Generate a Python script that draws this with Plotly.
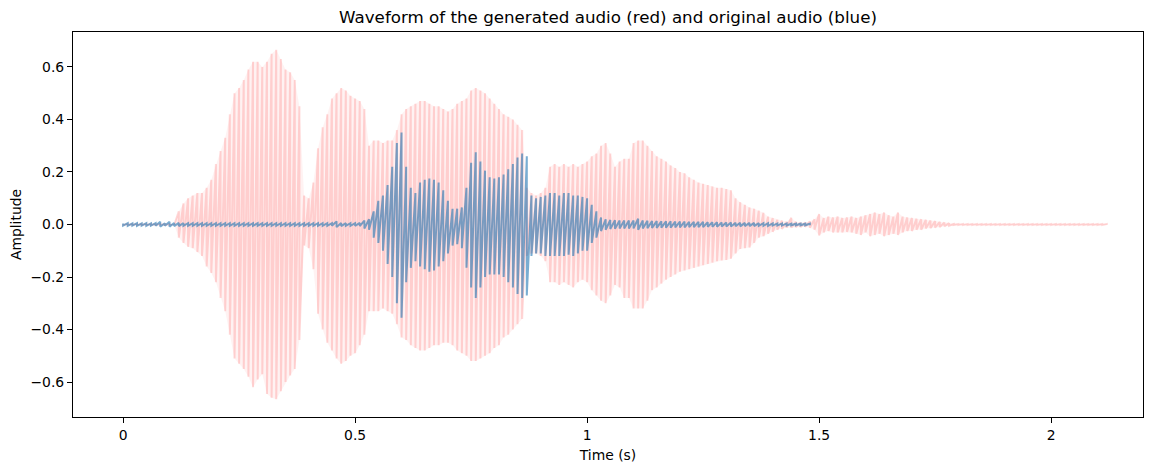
import numpy as np
import plotly.graph_objects as go

# envoltória: pico superior e inferior a cada 10 ms
passo = 0.01

gerado_sup = [
    0.002, 0.002, 0.002, 0.002, 0.002, 0.002, 0.002, 0.002, 0.002, 0.002,
    0.002, 0.002, 0.05, 0.08, 0.10, 0.11, 0.12, 0.12, 0.14, 0.17,
    0.23, 0.28, 0.33, 0.42, 0.50, 0.52, 0.55, 0.59, 0.62, 0.62,
    0.60, 0.62, 0.65, 0.665, 0.63, 0.59, 0.58, 0.55, 0.45, 0.11,
    0.10, 0.16, 0.29, 0.37, 0.42, 0.48, 0.50, 0.52, 0.51, 0.49,
    0.48, 0.47, 0.44, 0.30, 0.32, 0.32, 0.31, 0.32, 0.32, 0.36,
    0.42, 0.44, 0.45, 0.46, 0.47, 0.47, 0.46, 0.45, 0.45, 0.44,
    0.43, 0.44, 0.46, 0.47, 0.48, 0.51, 0.52, 0.51, 0.50, 0.48,
    0.46, 0.44, 0.42, 0.41, 0.40, 0.38, 0.36, 0.14, 0.12, 0.11,
    0.12, 0.14, 0.22, 0.23, 0.22, 0.23, 0.22, 0.23, 0.22, 0.23,
    0.24, 0.26, 0.27, 0.30, 0.31, 0.27, 0.22, 0.24, 0.25, 0.25,
    0.31, 0.32, 0.32, 0.30, 0.28, 0.26, 0.25, 0.24, 0.225, 0.215,
    0.20, 0.195, 0.18, 0.17, 0.16, 0.155, 0.15, 0.145, 0.14, 0.14,
    0.135, 0.13, 0.10, 0.085, 0.075, 0.065, 0.06, 0.053, 0.045, 0.03,
    0.025, 0.018, 0.014, 0.01, 0.026, 0.01, 0.008, 0.008, 0.012, 0.02,
    0.04, 0.025, 0.03, 0.027, 0.03, 0.025, 0.027, 0.03, 0.025, 0.03,
    0.035, 0.04, 0.046, 0.04, 0.046, 0.035, 0.03, 0.046, 0.03, 0.027,
    0.025, 0.022, 0.02, 0.018, 0.015, 0.013, 0.01, 0.008, 0.005, 0.002,
    0.002, 0.002, 0.002, 0.002, 0.002, 0.002, 0.002, 0.002, 0.002, 0.002,
    0.002, 0.002, 0.002, 0.002, 0.002, 0.002, 0.002, 0.002, 0.002, 0.002,
    0.002, 0.002, 0.002, 0.002, 0.002, 0.002, 0.002, 0.002, 0.002, 0.002,
    0.002, 0.002, 0.002,
]

gerado_inf = [
    -0.002, -0.002, -0.002, -0.002, -0.002, -0.002, -0.002, -0.002, -0.002, -0.002,
    -0.002, -0.002, -0.05, -0.07, -0.085, -0.09, -0.105, -0.12, -0.16, -0.185,
    -0.22, -0.28, -0.33, -0.42, -0.51, -0.53, -0.55, -0.58, -0.62, -0.59,
    -0.57, -0.645, -0.66, -0.665, -0.635, -0.60, -0.575, -0.55, -0.44, -0.08,
    -0.09, -0.17, -0.34, -0.40, -0.45, -0.48, -0.51, -0.53, -0.52, -0.50,
    -0.49, -0.46, -0.42, -0.33, -0.33, -0.33, -0.32, -0.33, -0.34, -0.38,
    -0.43, -0.44, -0.46, -0.47, -0.48, -0.48, -0.47, -0.46, -0.46, -0.45,
    -0.45, -0.46, -0.48, -0.49, -0.50, -0.52, -0.52, -0.51, -0.50, -0.49,
    -0.47, -0.46, -0.43, -0.42, -0.40, -0.38, -0.36, -0.12, -0.11, -0.11,
    -0.12, -0.14, -0.22, -0.22, -0.23, -0.22, -0.23, -0.24, -0.22, -0.21,
    -0.22, -0.25, -0.27, -0.29, -0.30, -0.27, -0.23, -0.24, -0.28, -0.28,
    -0.32, -0.32, -0.32, -0.29, -0.25, -0.24, -0.225, -0.21, -0.20, -0.19,
    -0.18, -0.175, -0.17, -0.165, -0.16, -0.155, -0.15, -0.145, -0.14, -0.137,
    -0.135, -0.13, -0.11, -0.093, -0.09, -0.088, -0.07, -0.05, -0.045, -0.035,
    -0.028, -0.02, -0.017, -0.012, -0.012, -0.01, -0.01, -0.009, -0.012, -0.02,
    -0.042, -0.03, -0.025, -0.03, -0.03, -0.03, -0.028, -0.03, -0.035, -0.04,
    -0.03, -0.045, -0.04, -0.035, -0.045, -0.04, -0.035, -0.04, -0.03, -0.025,
    -0.025, -0.02, -0.02, -0.015, -0.014, -0.012, -0.01, -0.007, -0.005, -0.002,
    -0.002, -0.002, -0.002, -0.002, -0.002, -0.002, -0.002, -0.002, -0.002, -0.002,
    -0.002, -0.002, -0.002, -0.002, -0.002, -0.002, -0.002, -0.002, -0.002, -0.002,
    -0.002, -0.002, -0.002, -0.002, -0.002, -0.002, -0.002, -0.002, -0.002, -0.002,
    -0.002, -0.002, -0.002,
]

original_sup = [
    0.004, 0.005, 0.004, 0.005, 0.004, 0.005, 0.004, 0.005, 0.01, 0.005,
    0.01, 0.006, 0.006, 0.005, 0.005, 0.005, 0.005, 0.005, 0.005, 0.005,
    0.005, 0.005, 0.005, 0.005, 0.005, 0.005, 0.005, 0.005, 0.005, 0.005,
    0.005, 0.005, 0.005, 0.005, 0.005, 0.005, 0.005, 0.005, 0.005, 0.005,
    0.005, 0.005, 0.005, 0.005, 0.005, 0.005, 0.012, 0.006, 0.005, 0.005,
    0.005, 0.006, 0.015, 0.02, 0.05, 0.09, 0.11, 0.15, 0.22, 0.31,
    0.35, 0.22, 0.14, 0.12, 0.16, 0.17, 0.175, 0.17, 0.16, 0.13,
    0.09, 0.06, 0.06, 0.065, 0.14, 0.235, 0.275, 0.24, 0.205, 0.18,
    0.175, 0.18, 0.19, 0.21, 0.23, 0.255, 0.27, 0.26, 0.11, 0.10,
    0.105, 0.11, 0.12, 0.12, 0.11, 0.12, 0.12, 0.11, 0.11, 0.105,
    0.10, 0.075, 0.05, 0.027, 0.02, 0.017, 0.016, 0.015, 0.015, 0.015,
    0.015, 0.022, 0.015, 0.014, 0.013, 0.013, 0.012, 0.012, 0.012, 0.011,
    0.011, 0.011, 0.01, 0.01, 0.01, 0.01, 0.009, 0.009, 0.009, 0.008,
    0.008, 0.008, 0.007, 0.007, 0.006, 0.006, 0.006, 0.005, 0.005, 0.005,
    0.004, 0.004, 0.004, 0.004, 0.003, 0.003, 0.003, 0.003, 0.003,
]

original_inf = [
    -0.004, -0.005, -0.004, -0.005, -0.004, -0.005, -0.004, -0.005, -0.008, -0.005,
    -0.008, -0.006, -0.006, -0.005, -0.005, -0.005, -0.005, -0.005, -0.005, -0.005,
    -0.005, -0.005, -0.005, -0.005, -0.005, -0.005, -0.005, -0.005, -0.005, -0.005,
    -0.005, -0.005, -0.005, -0.005, -0.005, -0.005, -0.005, -0.005, -0.005, -0.005,
    -0.005, -0.005, -0.005, -0.005, -0.005, -0.005, -0.01, -0.006, -0.005, -0.005,
    -0.005, -0.006, -0.015, -0.02, -0.05, -0.07, -0.10, -0.15, -0.20, -0.30,
    -0.355, -0.22, -0.165, -0.14, -0.16, -0.17, -0.18, -0.175, -0.16, -0.14,
    -0.11, -0.08, -0.075, -0.09, -0.165, -0.24, -0.28, -0.24, -0.20, -0.19,
    -0.19, -0.19, -0.20, -0.22, -0.24, -0.265, -0.28, -0.27, -0.12, -0.11,
    -0.11, -0.12, -0.12, -0.12, -0.12, -0.12, -0.115, -0.12, -0.11, -0.10,
    -0.10, -0.07, -0.05, -0.025, -0.02, -0.017, -0.016, -0.015, -0.015, -0.015,
    -0.015, -0.02, -0.015, -0.014, -0.013, -0.013, -0.012, -0.012, -0.012, -0.011,
    -0.011, -0.011, -0.01, -0.01, -0.01, -0.01, -0.009, -0.009, -0.009, -0.008,
    -0.008, -0.008, -0.007, -0.007, -0.006, -0.006, -0.006, -0.005, -0.005, -0.005,
    -0.004, -0.004, -0.004, -0.004, -0.003, -0.003, -0.003, -0.003, -0.003,
]

titulo = "Waveform of the generated audio (red) and original audio (blue)"
fonte = "DejaVu Sans"


def traco_onda(sup, inf):
    # cada instante vira um traço vertical (sup -> inf) ligado ao seguinte
    t = np.arange(len(sup)) * passo
    x = np.repeat(t, 2)
    y = np.column_stack([sup, inf]).ravel()
    return x, y


t_ger = np.arange(len(gerado_sup)) * passo

fig = go.Figure()

# leve preenchimento do corpo do áudio gerado
fig.add_trace(go.Scatter(
    x=t_ger, y=gerado_sup, mode='lines', line=dict(width=0),
    hoverinfo='skip', name='sup'
))
fig.add_trace(go.Scatter(
    x=t_ger, y=gerado_inf, mode='lines', line=dict(width=0),
    fill='tonexty', fillcolor='rgba(255,0,0,0.05)',
    hoverinfo='skip', name='inf'
))

x_ger, y_ger = traco_onda(gerado_sup, gerado_inf)
fig.add_trace(go.Scatter(
    x=x_ger, y=y_ger, mode='lines',
    line=dict(color='rgba(255,0,0,0.15)', width=2),
    name='gerado'
))

x_ori, y_ori = traco_onda(original_sup, original_inf)
fig.add_trace(go.Scatter(
    x=x_ori, y=y_ori, mode='lines',
    line=dict(color='rgba(31,119,180,0.6)', width=2),
    name='original'
))

eixo = dict(
    showline=True, mirror=True, linecolor='black', linewidth=1.1,
    ticks='outside', ticklen=5, tickwidth=1.1, tickcolor='black',
    showgrid=False, zeroline=False, automargin=False,
    tickfont=dict(family=fonte, size=13.9, color='black'),
)

fig.update_layout(
    width=1159, height=462,
    margin=dict(l=65, r=24, t=24, b=53),
    paper_bgcolor='white', plot_bgcolor='white',
    showlegend=False,
    title=dict(text=titulo, x=0.5, xref='paper', xanchor='center',
               y=1 - 9 / 462, yanchor='middle',
               font=dict(family=fonte, size=16.7, color='black')),
    xaxis=dict(eixo, range=[-0.108, 2.198], tick0=0, dtick=0.5,
               title=dict(text='Time (s)', standoff=8,
                          font=dict(family=fonte, size=13.9, color='black'))),
    yaxis=dict(eixo, range=[-0.733, 0.733], tick0=0, dtick=0.2, tickformat='.1f',
               title=dict(text='Amplitude', standoff=12,
                          font=dict(family=fonte, size=13.9, color='black'))),
)

fig.write_html("out.html")
